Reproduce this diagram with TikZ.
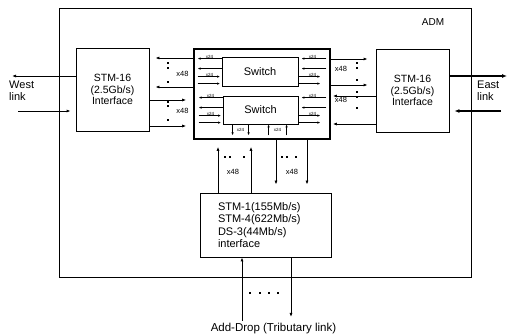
\documentclass[tikz,border=0pt]{standalone}
\usepackage{fontspec}
\setmainfont{Liberation Sans}
\usetikzlibrary{arrows.meta}

\tikzset{
	unitbox/.style={draw, line width=0.8pt, inner sep=0pt},
	bus/.style={line width=0.8pt, -{Latex[length=4pt,width=3pt]}},
	fatbus/.style={line width=1.8pt, -{Latex[length=5pt,width=4pt]}},
	tap/.style={line width=0.6pt, -{Latex[length=3pt,width=2.4pt]}},
	sqd/.style={fill, minimum size=2.8pt, inner sep=0pt},
	mult/.style={font=\fontsize{7.5}{8}\selectfont, inner sep=0.5pt},
	submult/.style={font=\fontsize{4.5}{5}\selectfont, inner sep=0.3pt},
}

\begin{document}
\begin{tikzpicture}[x=1pt, y=-1pt]
		\useasboundingbox (0,0) rectangle (511,336);

		%% ADM frame
		\node[unitbox, line width=0.7pt, minimum width=412pt, minimum height=269pt] (adm) at (265,142.5) {};
		\node[font=\fontsize{10}{11}\selectfont] (admlbl) at (433,22) {ADM};

		%% STM-16 line interfaces
		\node[unitbox, align=center, minimum width=73pt, minimum height=83pt,
			font=\fontsize{10.5}{11.5}\selectfont] (west) at (112.5,89.5) {STM-16\\(2.5Gb/s)\\Interface};
		\node[unitbox, align=center, minimum width=73pt, minimum height=83pt,
			font=\fontsize{10.5}{11.5}\selectfont] (east) at (412.5,90.5) {STM-16\\(2.5Gb/s)\\Interface};

		%% Switch fabric
		\node[unitbox, line width=1.6pt, minimum width=136pt, minimum height=90pt] (core) at (262,94) {};
		\node[unitbox, minimum width=76pt, minimum height=29pt, font=\fontsize{11}{12}\selectfont] (swA) at (260,71.5) {Switch};
		\node[unitbox, minimum width=75pt, minimum height=28pt, font=\fontsize{11}{12}\selectfont] (swB) at (260.5,110) {Switch};

		%% Tributary interface
		\node[unitbox, align=left, text width=95pt, inner xsep=18pt, minimum height=64pt,
			font=\fontsize{11}{12.5}\selectfont] (trib) at (265.5,225)
			{STM-1(155Mb/s)\\STM-4(622Mb/s)\\DS-3(44Mb/s)\\interface};

		% West link
		\coordinate (wout) at (12,76);
		\coordinate (win) at (18,111);
		\draw[bus] (west.west |- wout) -- (wout);
		\draw[bus, shorten >=5pt] (win) -- (west.west |- win);
		\node[font=\fontsize{11}{12}\selectfont, align=left, anchor=west, inner sep=0pt] (wlbl) at (9,91) {West\\link};

		% East link
		\coordinate (eout) at (507,76);
		\coordinate (ein) at (501,111);
		\draw[fatbus] (east.east |- eout) -- (eout);
		\draw[fatbus, shorten >=5pt] (ein) -- (east.east |- ein);
		\node[font=\fontsize{11}{12}\selectfont, align=left, anchor=west, inner sep=0pt] (elbl) at (477,91) {East\\link};

		% West <-> fabric (x48)
		\foreach \y in {58,87}
			\draw[bus, shorten >=6pt] (core.west |- 0,\y) -- (west.east |- 0,\y);
		\foreach \y in {100,126}
			\draw[bus, shorten >=7pt] (west.east |- 0,\y) -- (core.west |- 0,\y);
		\foreach \y in {63,68,82,102,106,120}
			\node[sqd] at (168,\y) {};
		\node[mult] (wm1) at (182.5,74) {x48};
		\node[mult] (wm2) at (182.5,111) {x48};

		% East <-> fabric (x48)
		\foreach \y in {59,85}
			\draw[bus, shorten >=8pt] (core.east |- 0,\y) -- (east.west |- 0,\y);
		\foreach \y in {96,124}
			\draw[bus, shorten >=2pt] (east.west |- 0,\y) -- (core.east |- 0,\y);
		\foreach \y in {63,68,80,92,97,108}
			\node[sqd] at (357,\y) {};
		\node[mult] (em1) at (341,69) {x48};
		\node[mult] (em2) at (341,100) {x48};

		% Fabric internal taps (x24)
		\foreach \sw in {swA,swB}{
			\draw[tap] ([yshift=-2pt]\sw.north west) -- ++(-24,0);
			\draw[tap] ([yshift=-12pt]\sw.north west) -- ++(-24,0);
			\draw[tap, shorten >=1.5pt] ([yshift=-20pt]\sw.north west) ++(-24,0) -- ++(24,0);
			\draw[tap, shorten >=1.5pt] ([yshift=-27pt]\sw.north west) ++(-24,0) -- ++(24,0);
			\node[submult, anchor=south] at ([xshift=-12pt,yshift=-2pt]\sw.north west) {x24};
			\node[submult, anchor=south] at ([xshift=-12pt,yshift=-20pt]\sw.north west) {x24};
			\draw[tap, shorten >=3pt] ([yshift=-2pt]\sw.north east) ++(28,0) -- ++(-28,0);
			\draw[tap, shorten >=3pt] ([yshift=-12pt]\sw.north east) ++(28,0) -- ++(-28,0);
			\draw[tap] ([yshift=-20pt]\sw.north east) -- ++(22,0);
			\draw[tap] ([yshift=-27pt]\sw.north east) -- ++(22,0);
			\node[submult, anchor=south] at ([xshift=14pt,yshift=-2pt]\sw.north east) {x24};
			\node[submult, anchor=south] at ([xshift=14pt,yshift=-20pt]\sw.north east) {x24};
		}
		\foreach \dx in {10,26}
			\draw[tap] ([xshift=\dx pt]swB.south west) -- ++(0,11);
		\foreach \dx in {46,64}
			\draw[tap] ([xshift=\dx pt]swB.south west) ++(0,11) -- ++(0,-11);
		\node[submult] at ([xshift=18pt,yshift=-6pt]swB.south west) {x24};
		\node[submult] at ([xshift=55pt,yshift=-6pt]swB.south west) {x24};

		% Fabric <-> tributary (x48)
		\foreach \x in {218,251}
			\draw[bus, shorten >=7pt] (trib.north -| \x,0) -- (core.south -| \x,0);
		\foreach \x in {276,307}
			\draw[bus, shorten >=8pt] (core.south -| \x,0) -- (trib.north -| \x,0);
		\foreach \x in {225,230,244,282,287,296}
			\node[sqd] at (\x,157) {};
		\node[mult] (tm1) at (233,172) {x48};
		\node[mult] (tm2) at (292,172) {x48};

		% Add-Drop (tributary link)
		\coordinate (tin) at (242,321);
		\coordinate (tout) at (291,317);
		\draw[bus] (tin) -- (trib.south -| tin);
		\draw[bus] (trib.south -| tout) -- (tout);
		\foreach \x in {250,260,269,278}
			\node[sqd] at (\x,293) {};
		\node[font=\fontsize{11.5}{12}\selectfont, inner sep=0pt] (tlbl) at (273.5,329) {Add-Drop (Tributary link)};
	\end{tikzpicture}
\end{document}
